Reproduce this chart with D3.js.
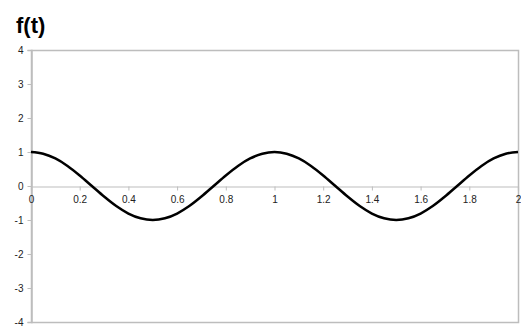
<!DOCTYPE html>
<html><head><meta charset="utf-8">
<script src="https://cdn.jsdelivr.net/npm/d3@7"></script>
<style>body{margin:0;background:#fff}svg{display:block}</style>
</head><body>
<script>
const title = "f(t)";
const tValues = [0,0.05,0.1,0.15,0.2,0.25,0.3,0.35,0.4,0.45,0.5,0.55,0.6,0.65,0.7,0.75,0.8,0.85,0.9,0.95,1,
  1.05,1.1,1.15,1.2,1.25,1.3,1.35,1.4,1.45,1.5,1.55,1.6,1.65,1.7,1.75,1.8,1.85,1.9,1.95,2];
const fValues = [1,0.95,0.81,0.59,0.31,0,-0.31,-0.59,-0.81,-0.95,-1,-0.95,-0.81,-0.59,-0.31,0,0.31,0.59,0.81,0.95,1,
  0.95,0.81,0.59,0.31,0,-0.31,-0.59,-0.81,-0.95,-1,-0.95,-0.81,-0.59,-0.31,0,0.31,0.59,0.81,0.95,1];
const xTicks = [0,0.2,0.4,0.6,0.8,1,1.2,1.4,1.6,1.8,2];
const yTicks = [-4,-3,-2,-1,0,1,2,3,4];

const W = 521, H = 326;
const mLeft = 31, mRight = 518, mTop = 50, mBottom = 322;
const svg = d3.select("body").append("svg").attr("width", W).attr("height", H);
const x = d3.scaleLinear().domain([0, 2]).range([mLeft, mRight]);
const y = d3.scaleLinear().domain([-4, 4]).range([mBottom, mTop]);
const grey = "#bdbdbd";
const font = "'Liberation Sans', Arial, sans-serif";

// frame
svg.append("rect").attr("x", mLeft + 0.5).attr("y", mTop + 0.5)
  .attr("width", mRight - mLeft).attr("height", mBottom - mTop)
  .attr("fill", "none").attr("stroke", grey).attr("stroke-width", 1.5);

// y axis
const ya = svg.append("g").attr("transform", `translate(${mLeft + 0.5},0)`)
  .call(d3.axisLeft(y).tickValues(yTicks).tickSize(4).tickPadding(4).tickFormat(d => String(d)));
ya.select(".domain").attr("stroke", grey).attr("stroke-width", 1.5);
ya.selectAll(".tick line").attr("stroke", grey);
ya.selectAll("text").attr("font-family", font).attr("font-size", 10).attr("fill", "#222");

// x axis at y=0
const xa = svg.append("g").attr("transform", `translate(0,${y(0) + 0.5})`)
  .call(d3.axisBottom(x).tickValues(xTicks).tickSize(4).tickPadding(5).tickFormat(d => String(d)));
xa.select(".domain").attr("stroke", grey).attr("stroke-width", 1.2);
xa.selectAll(".tick line").attr("stroke", grey);
xa.selectAll("text").attr("font-family", font).attr("font-size", 10).attr("fill", "#222");

// line
const data = tValues.map((t, i) => [t, fValues[i]]);
svg.append("path").datum(data)
  .attr("fill", "none").attr("stroke", "#000").attr("stroke-width", 2.5)
  .attr("stroke-linejoin", "round")
  .attr("d", d3.line().x(d => x(d[0])).y(d => y(d[1])).curve(d3.curveMonotoneX));

// title
svg.append("text").attr("x", 16).attr("y", 33).text(title)
  .attr("font-family", font).attr("font-weight", "bold").attr("font-size", 22).attr("fill", "#000");
</script>
</body></html>
